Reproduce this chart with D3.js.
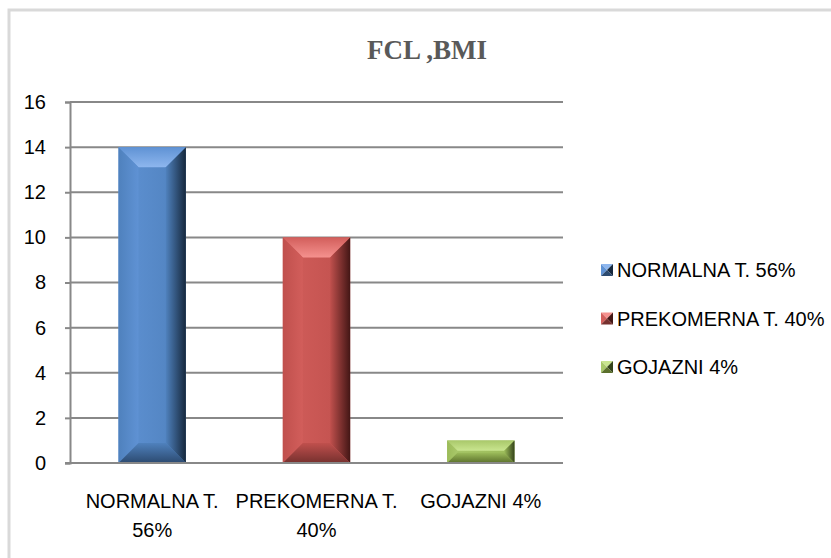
<!DOCTYPE html>
<html>
<head>
<meta charset="utf-8">
<title>FCL ,BMI</title>
<script src="https://d3js.org/d3.v7.min.js"></script>
<style>
	body { margin: 0; background: #fff; }
	svg text { font-family: "Liberation Sans Narrow", "Arial Narrow", "Liberation Sans", sans-serif; fill: #000; }
</style>
</head>
<body>
<svg id="chart" width="831" height="558"></svg>
<script>
// data
const categories = ["NORMALNA T. 56%", "PREKOMERNA T. 40%", "GOJAZNI 4%"];
const axisLabels = [["NORMALNA T.", "56%"], ["PREKOMERNA T.", "40%"], ["GOJAZNI 4%"]];
const values = [14, 10, 1];
const yTicks = [0, 2, 4, 6, 8, 10, 12, 14, 16];

// bar colours: base, light bevel, side, dark bevel, bottom
const colors = [
	{ base: "#4f81bd", light: "#8db6ee", side: "#5f92d4", dark: "#16283d", bottom: "#2c4a70" },
	{ base: "#c0504d", light: "#f5918e", side: "#d25e5b", dark: "#431615", bottom: "#76302e" },
	{ base: "#9bbb59", light: "#c9e58f", side: "#a9c86a", dark: "#34431a", bottom: "#5b702c" }
];

const svg = d3.select("#chart");
const defs = svg.append("defs");

function grad(id, x1, y1, x2, y2, stops) {
	const g = defs.append("linearGradient").attr("id", id)
		.attr("x1", x1).attr("y1", y1).attr("x2", x2).attr("y2", y2);
	stops.forEach(s => g.append("stop").attr("offset", s[0]).attr("stop-color", s[1]));
}

colors.forEach((c, i) => {
	grad("face" + i, 0, 0, 1, 0, [[0, c.side], [1, c.base]]);
	grad("top" + i, 0, 0, 0, 1, [[0, c.side], [1, c.light]]);
	grad("left" + i, 0, 0, 1, 0, [[0, c.base], [1, c.side]]);
	grad("right" + i, 0, 0, 1, 0, [[0, c.base], [1, c.dark]]);
	grad("bot" + i, 0, 0, 0, 1, [[0, c.base], [1, c.bottom]]);
});

// outer chart border (only the top and left edges are visible)
svg.append("rect")
	.attr("x", 9).attr("y", 10)
	.attr("width", 900).attr("height", 700)
	.attr("fill", "none")
	.attr("stroke", "#d9d9d9")
	.attr("stroke-width", 3);

const plotLeft = 70, plotRight = 563, plotTop = 102, plotBottom = 463;

const x = d3.scaleBand()
	.domain(categories)
	.range([plotLeft, plotRight])
	.paddingInner(0.59)
	.paddingOuter(0.295);

const y = d3.scaleLinear()
	.domain([0, 16])
	.range([plotBottom, plotTop]);

// gridlines
svg.append("g")
	.selectAll("line")
	.data(yTicks)
	.join("line")
	.attr("x1", plotLeft).attr("x2", plotRight)
	.attr("y1", d => y(d)).attr("y2", d => y(d))
	.attr("stroke", "#888")
	.attr("stroke-width", 2);

// y axis
const yAxis = svg.append("g")
	.attr("transform", "translate(" + plotLeft + ",0)")
	.call(d3.axisLeft(y).tickValues(yTicks).tickSize(5).tickPadding(19));
yAxis.select(".domain").attr("stroke", "#888").attr("stroke-width", 2);
yAxis.selectAll(".tick line").attr("stroke", "#888").attr("stroke-width", 2);
yAxis.selectAll(".tick text")
	.attr("font-size", 20)
	.attr("fill", "#000")
	.style("font-family", "'Liberation Sans Narrow', 'Liberation Sans', sans-serif");

// bars with a bevel look
const bars = svg.append("g")
	.selectAll("g")
	.data(values.map((v, i) => ({ v: v, i: i, c: categories[i] })))
	.join("g");

bars.each(function (d) {
	const g = d3.select(this);
	const x0 = x(d.c), x1 = x0 + x.bandwidth();
	const y0 = y(d.v), y1 = y(0);
	const b = Math.min(20, (y1 - y0) / 2.2);
	const i = d.i;

	g.append("rect")
		.attr("x", x0).attr("y", y0)
		.attr("width", x1 - x0).attr("height", y1 - y0)
		.attr("fill", "url(#face" + i + ")");
	// top bevel
	g.append("polygon")
		.attr("points", [[x0, y0], [x1, y0], [x1 - b, y0 + b], [x0 + b, y0 + b]].join(" "))
		.attr("fill", "url(#top" + i + ")");
	// left bevel
	g.append("polygon")
		.attr("points", [[x0, y0], [x0 + b, y0 + b], [x0 + b, y1 - b], [x0, y1]].join(" "))
		.attr("fill", "url(#left" + i + ")");
	// right bevel
	g.append("polygon")
		.attr("points", [[x1, y0], [x1, y1], [x1 - b, y1 - b], [x1 - b, y0 + b]].join(" "))
		.attr("fill", "url(#right" + i + ")");
	// bottom bevel
	g.append("polygon")
		.attr("points", [[x0, y1], [x0 + b, y1 - b], [x1 - b, y1 - b], [x1, y1]].join(" "))
		.attr("fill", "url(#bot" + i + ")");
});

// redraw baseline over bars
svg.append("line")
	.attr("x1", plotLeft - 5).attr("x2", plotRight)
	.attr("y1", y(0)).attr("y2", y(0))
	.attr("stroke", "#888").attr("stroke-width", 2);

// category labels
svg.append("g")
	.selectAll("text")
	.data(axisLabels)
	.join("text")
	.attr("text-anchor", "middle")
	.attr("font-size", 20)
	.attr("x", (d, i) => x(categories[i]) + x.bandwidth() / 2)
	.attr("y", 508)
	.selectAll("tspan")
	.data(d => d)
	.join("tspan")
	.attr("x", function () { return d3.select(this.parentNode).attr("x"); })
	.attr("dy", (d, i) => i === 0 ? 0 : 29)
	.text(d => d);

// title
svg.append("text")
	.attr("x", 427).attr("y", 59)
	.attr("text-anchor", "middle")
	.attr("font-size", 27)
	.attr("font-weight", "bold")
	.style("font-family", "'Liberation Serif', 'Times New Roman', serif")
	.style("fill", "#595959")
	.text("FCL ,BMI");

// legend
const legend = svg.append("g")
	.selectAll("g")
	.data(categories)
	.join("g")
	.attr("transform", (d, i) => "translate(601," + (270 + i * 48.5) + ")");

legend.each(function (d, i) {
	const g = d3.select(this);
	const s = 12, h = s / 2, c = colors[i];
	g.append("polygon").attr("points", [[0, -h], [s, -h], [h, 0]].join(" ")).attr("fill", c.light);
	g.append("polygon").attr("points", [[0, -h], [h, 0], [0, h]].join(" ")).attr("fill", c.side);
	g.append("polygon").attr("points", [[s, -h], [s, h], [h, 0]].join(" ")).attr("fill", c.dark);
	g.append("polygon").attr("points", [[0, h], [h, 0], [s, h]].join(" ")).attr("fill", c.bottom);
});

legend.append("text")
	.attr("x", 16).attr("y", 7)
	.attr("font-size", 20)
	.text(d => d);
</script>
</body>
</html>
